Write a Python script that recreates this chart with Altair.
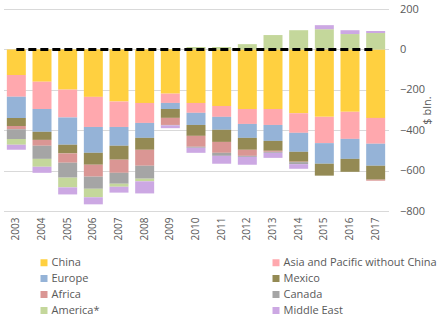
import altair as alt
import pandas as pd

years = [str(y) for y in range(2003, 2018)]
series = ["China", "Asia and Pacific without China", "Europe", "Mexico",
          "Africa", "Canada", "America*", "Middle East"]
colors = ["#FFD040", "#FFA8AE", "#95B3D7", "#948A54",
          "#DA9694", "#A5A5A5", "#C4D79B", "#CCA8E3"]

china = [-127, -160, -199, -235, -258, -265, -219, -265, -280, -295, -295, -316, -334, -309, -339]
asia = [-108, -135, -138, -149, -126, -99, -46, -49, -54, -74, -79, -97, -130, -134, -128]
europe = [-104, -113, -135, -128, -93, -74, -30, -60, -64, -69, -79, -94, -102, -99, -109]
mexico = [-40, -40, -43, -59, -69, -59, -44, -54, -60, -59, -49, -49, -59, -64, -69]
africa = [-16, -29, -46, -59, -65, -79, -35, -54, -54, -30, -5, -2, 0, 0, -5]
canada = [-48, -65, -74, -60, -54, -64, -2, -5, -15, -5, -5, -10, 4, 0, 0]
america = [-29, -39, -48, -42, -15, -13, 0, 12, 12, 26, 71, 95, 96, 76, 81]
middle_east = [-25, -30, -35, -35, -29, -60, -14, -25, -39, -39, -25, -23, 20, 19, 10]

values = [china, asia, europe, mexico, africa, canada, america, middle_east]
rows = []
for si, (name, vals) in enumerate(zip(series, values)):
    for y, v in zip(years, vals):
        rows.append({"year": y, "region": name, "value": v, "ord": si})
df = pd.DataFrame(rows)
zero_df = pd.DataFrame({"year": years, "value": [0] * len(years)})

FONT = "Open Sans"
GRAY = "#595959"

x = alt.X("year:N", sort=years, title=None,
          scale=alt.Scale(paddingInner=0.26, paddingOuter=0.13),
          axis=alt.Axis(labelAngle=270, labelFontSize=10, labelColor=GRAY,
                        labelFont=FONT, ticks=False, domain=False, labelPadding=6))

bars = alt.Chart(df).mark_bar().encode(
    x=x,
    y=alt.Y("value:Q", stack="zero", title="$ bln.",
            scale=alt.Scale(domain=[-800, 200], nice=False),
            axis=alt.Axis(orient="right", values=[-800, -600, -400, -200, 0, 200],
                          labelFontSize=11, labelColor=GRAY, labelFont=FONT,
                          ticks=False, domain=False, labelPadding=11,
                          gridColor="#D9D9D9", gridWidth=1,
                          titleAngle=270, titleFont=FONT, titleFontSize=11,
                          titleFontWeight="normal", titleColor=GRAY, titlePadding=8)),
    color=alt.Color("region:N", sort=series,
                    scale=alt.Scale(domain=series, range=colors),
                    legend=alt.Legend(title=None, orient="none", legendX=35, legendY=248,
                                      direction="horizontal",
                                      columns=2, columnPadding=170, rowPadding=4,
                                      symbolType="square", symbolSize=49,
                                      symbolStrokeWidth=0, labelFontSize=11,
                                      labelFont=FONT, labelColor=GRAY, padding=0,
                                      labelOffset=2)),
    order=alt.Order("ord:Q", sort="ascending"),
)

line = alt.Chart(zero_df).mark_line(color="black", strokeWidth=3, strokeDash=[8, 4]).encode(
    x=alt.X("year:N", sort=years),
    y=alt.Y("value:Q"),
)

chart = alt.layer(bars, line).properties(
    width=385, height=202,
    padding={"left": 3.5, "top": 3, "right": 0, "bottom": 0},
).configure_view(stroke=None)

chart.save("out.html", embed_options={"renderer": "svg", "actions": False})
